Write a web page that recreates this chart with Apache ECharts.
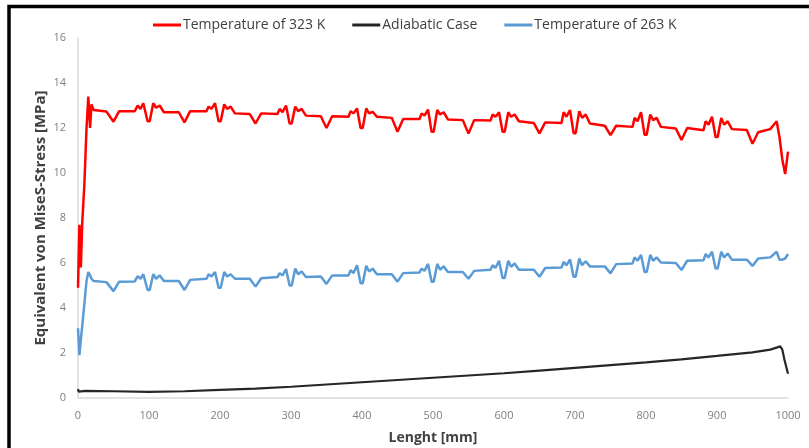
<!DOCTYPE html>
<html lang="en">

<head>
    <meta charset="UTF-8">
    <title>Equivalent von Mises stress</title>
    <script src="https://cdn.jsdelivr.net/npm/echarts@6/dist/echarts.min.js"></script>
</head>

<style>
    html, body {
        margin: 0;
        padding: 0;
        background: #fff;
    }

    #main {
        width: 809px;
        height: 448px;
    }
</style>

<body>
    <div id="main"></div>
</body>

<script>
    // lengths [mm] shared by the two noisy curves
    var lengthMm = [0, 2, 4, 6, 9, 12, 14.5, 17, 19, 22, 40, 50, 58, 80, 84, 88, 92, 98, 101, 106, 110, 115, 121,
        142, 150, 158, 181, 184, 188, 193, 198, 201, 206, 210, 215, 221,
        242, 250, 258, 281, 284, 288, 293, 298, 301, 306, 310, 315, 321,
        342, 350, 358, 381, 384, 388, 393, 398, 401, 406, 410, 415, 421,
        442, 450, 458, 481, 484, 488, 493, 498, 501, 506, 510, 515, 521,
        542, 550, 558, 581, 584, 588, 593, 598, 601, 606, 610, 615, 621,
        642, 650, 658, 681, 684, 688, 693, 698, 701, 706, 710, 715, 721,
        742, 750, 758, 781, 784, 788, 793, 798, 801, 806, 810, 815, 821,
        842, 850, 858, 881, 884, 888, 893, 898, 901, 906, 910, 915, 921,
        942, 950, 958, 975, 984, 988, 992, 996, 1000];

    var temp323 = [4.9, 7.7, 5.8, 7.8, 9.5, 12.0, 13.4, 12.0, 13.05, 12.8, 12.73, 12.28, 12.75, 12.75, 13.0, 12.85, 13.1, 12.3, 12.3, 13.1, 12.9, 13.0, 12.7,
        12.7, 12.25, 12.75, 12.75, 12.95, 12.85, 13.1, 12.3, 12.3, 13.05, 12.85, 12.95, 12.65,
        12.62, 12.2, 12.65, 12.62, 12.85, 12.7, 13.0, 12.2, 12.2, 12.95, 12.75, 12.85, 12.55,
        12.52, 12.0, 12.52, 12.5, 12.75, 12.65, 12.87, 12.0, 12.0, 12.87, 12.65, 12.72, 12.5,
        12.45, 11.83, 12.4, 12.4, 12.65, 12.55, 12.82, 11.83, 11.83, 12.8, 12.6, 12.7, 12.38,
        12.35, 11.75, 12.35, 12.33, 12.6, 12.5, 12.7, 11.83, 11.83, 12.7, 12.5, 12.6, 12.3,
        12.22, 11.76, 12.25, 12.22, 12.7, 12.5, 12.8, 11.77, 11.77, 12.75, 12.45, 12.6, 12.2,
        12.1, 11.68, 12.1, 12.05, 12.45, 12.3, 12.7, 11.7, 11.7, 12.6, 12.35, 12.45, 12.05,
        11.98, 11.47, 12.0, 11.9, 12.3, 12.15, 12.5, 11.6, 11.6, 12.45, 12.15, 12.3, 11.95,
        11.91, 11.3, 11.81, 11.95, 12.3, 11.6, 10.6, 9.95, 10.95];

    var temp263 = [3.1, 1.9, 2.6, 3.2, 4.2, 5.2, 5.6, 5.45, 5.3, 5.2, 5.15, 4.75, 5.17, 5.18, 5.42, 5.3, 5.5, 4.8, 4.8, 5.5, 5.3, 5.45, 5.2,
        5.2, 4.8, 5.25, 5.3, 5.5, 5.4, 5.6, 4.9, 4.9, 5.6, 5.4, 5.5, 5.3,
        5.3, 4.95, 5.32, 5.38, 5.55, 5.45, 5.73, 5.0, 5.0, 5.75, 5.5, 5.62, 5.38,
        5.4, 5.07, 5.45, 5.45, 5.68, 5.55, 5.9, 5.1, 5.1, 5.88, 5.62, 5.75, 5.5,
        5.5, 5.17, 5.55, 5.58, 5.75, 5.65, 5.96, 5.17, 5.17, 5.96, 5.7, 5.85, 5.6,
        5.6, 5.3, 5.65, 5.7, 5.9, 5.78, 6.1, 5.33, 5.33, 6.1, 5.83, 5.98, 5.7,
        5.7, 5.39, 5.78, 5.8, 6.05, 5.9, 6.16, 5.39, 5.39, 6.2, 5.9, 6.08, 5.85,
        5.85, 5.54, 5.95, 5.98, 6.25, 6.1, 6.36, 5.6, 5.6, 6.36, 6.1, 6.25, 6.02,
        6.0, 5.69, 6.1, 6.12, 6.4, 6.25, 6.5, 5.76, 5.76, 6.5, 6.25, 6.42, 6.15,
        6.15, 5.87, 6.2, 6.25, 6.5, 6.15, 6.15, 6.2, 6.4];

    // adiabatic case, smooth curve
    var adiabaticMm = [0, 1, 3, 10, 50, 100, 150, 200, 250, 300, 350, 400, 450, 500, 550, 600, 650, 700, 750, 800,
        850, 900, 950, 975, 985, 989, 992, 995, 1000];
    var adiabatic = [0.4, 0.28, 0.3, 0.32, 0.3, 0.27, 0.3, 0.36, 0.42, 0.5, 0.6, 0.7, 0.8, 0.9, 1.0, 1.1, 1.22, 1.34, 1.46, 1.58,
        1.72, 1.87, 2.03, 2.15, 2.25, 2.3, 2.15, 1.7, 1.08];

    var seriesNames = ['Temperature of 323 K', 'Adiabatic Case', 'Temperature of 263 K'];
    var colors = ['#ff0000', '#262626', '#5b9bd5'];

    function pairs(xs, ys) {
        return xs.map(function (x, i) { return [x, ys[i]]; });
    }

    var font = "'Open Sans', sans-serif";
    var myChart = echarts.init(document.getElementById('main'));

    var option = {
        animation: false,
        color: colors,
        grid: {
            left: 78,
            right: 21,
            top: 38,
            bottom: 50,
            outerBoundsMode: 'none'
        },
        legend: {
            top: 13,
            left: 148,
            icon: 'rect',
            itemWidth: 28,
            itemHeight: 3,
            itemGap: 27,
            textStyle: {
                color: '#404040',
                fontSize: 14,
                fontFamily: font,
                padding: [0, 0, 0, -3]
            },
            data: seriesNames
        },
        graphic: [{
            type: 'rect',
            shape: { x: 9, y: 6.5, width: 1000, height: 1000 },
            style: { fill: 'none', stroke: '#000', lineWidth: 3.5 },
            silent: true
        }],
        xAxis: {
            type: 'value',
            min: 0,
            max: 1000,
            interval: 100,
            name: 'Lenght [mm]',
            nameLocation: 'middle',
            nameGap: 33,
            nameTextStyle: {
                color: '#404040',
                fontSize: 14,
                fontWeight: 'bold',
                fontFamily: font
            },
            axisLine: { lineStyle: { color: '#d9d9d9', width: 1.5 } },
            axisTick: { show: false },
            splitLine: { show: false },
            axisLabel: {
                color: '#808080',
                fontSize: 11,
                margin: 12,
                fontFamily: font,
                formatter: function (v) { return String(v); }
            }
        },
        yAxis: {
            type: 'value',
            min: 0,
            max: 16,
            interval: 2,
            name: 'Equivalent von MiseS-Stress [MPa]',
            nameLocation: 'middle',
            nameMoveOverlap: false,
            nameGap: 30,
            nameTextStyle: {
                color: '#404040',
                fontSize: 15,
                fontWeight: 'bold',
                fontFamily: font
            },
            axisLine: { show: true, lineStyle: { color: '#d9d9d9', width: 1.5 } },
            axisTick: { show: false },
            splitLine: { show: false },
            axisLabel: {
                color: '#808080',
                fontSize: 11,
                margin: 12,
                fontFamily: font
            }
        },
        series: [{
            name: seriesNames[0],
            type: 'line',
            symbol: 'none',
            lineStyle: { width: 2.5 },
            data: pairs(lengthMm, temp323)
        }, {
            name: seriesNames[1],
            type: 'line',
            symbol: 'none',
            lineStyle: { width: 2.2 },
            data: pairs(adiabaticMm, adiabatic)
        }, {
            name: seriesNames[2],
            type: 'line',
            symbol: 'none',
            lineStyle: { width: 2.5 },
            data: pairs(lengthMm, temp263)
        }]
    };

    myChart.setOption(option);
</script>

</html>
